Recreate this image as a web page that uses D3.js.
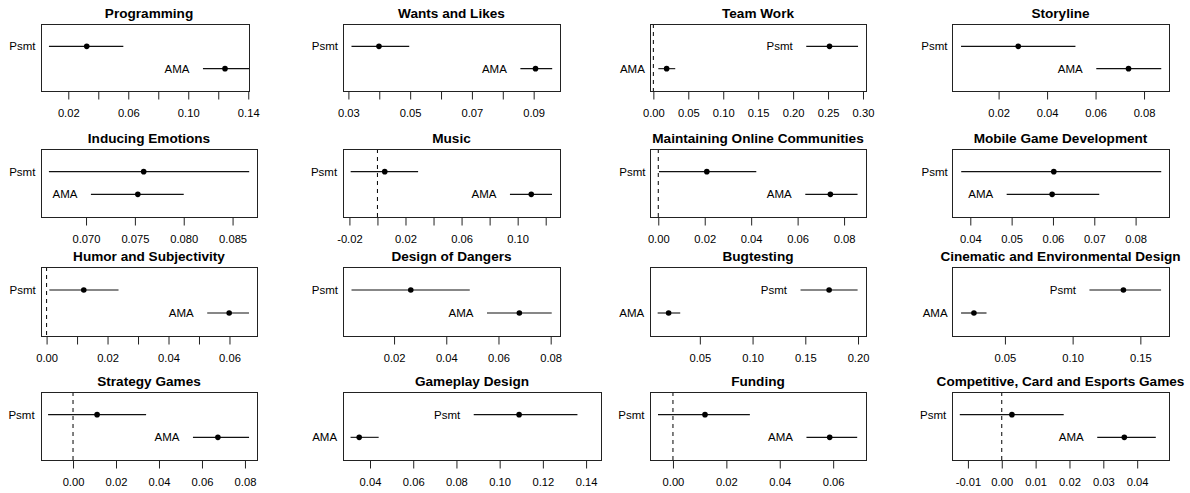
<!DOCTYPE html>
<html>
<head>
<meta charset="utf-8">
<script src="https://cdn.jsdelivr.net/npm/d3@7"></script>
<style>
  html, body { margin: 0; padding: 0; background: #fff; }
  svg { display: block; }
  text { font-family: "Liberation Sans", Arial, Helvetica, sans-serif; fill: #000; }
</style>
</head>
<body>
<svg id="chart" width="1190" height="493"></svg>
<script>
// ---------------- data ----------------
const categories = [
  "Programming", "Wants and Likes", "Team Work", "Storyline",
  "Inducing Emotions", "Music", "Maintaining Online Communities", "Mobile Game Development",
  "Humor and Subjectivity", "Design of Dangers", "Bugtesting", "Cinematic and Environmental Design",
  "Strategy Games", "Gameplay Design", "Funding", "Competitive, Card and Esports Games"
];
const seriesNames = ["Psmt", "AMA"];

const psmtEst = [0.0323, 0.0399, 0.2521, 0.0281, 0.0759, 0.0052, 0.0209, 0.0602, 0.0122, 0.0264, 0.1726, 0.1375, 0.0112, 0.1090, 0.0120, 0.0030];
const psmtLo  = [0.0071, 0.0310, 0.2188, 0.0045, 0.0662, -0.0191, 0.0003, 0.0378, 0.0009, 0.0037, 0.1455, 0.1124, -0.0116, 0.0880, -0.0056, -0.0124];
const psmtHi  = [0.0567, 0.0497, 0.2929, 0.0517, 0.0867, 0.0290, 0.0422, 0.0862, 0.0236, 0.0490, 0.1996, 0.1653, 0.0340, 0.1360, 0.0288, 0.0183];

const amaEst  = [0.1245, 0.0906, 0.0190, 0.0736, 0.0753, 0.1097, 0.0741, 0.0598, 0.0599, 0.0680, 0.0204, 0.0271, 0.0674, 0.0350, 0.0587, 0.0362];
const amaLo   = [0.1098, 0.0857, 0.0071, 0.0603, 0.0705, 0.0945, 0.0633, 0.0488, 0.0527, 0.0556, 0.0100, 0.0176, 0.0558, 0.0310, 0.0500, 0.0282];
const amaHi   = [0.1405, 0.0960, 0.0313, 0.0871, 0.0800, 0.1245, 0.0858, 0.0712, 0.0664, 0.0804, 0.0314, 0.0364, 0.0819, 0.0440, 0.0690, 0.0455];

// axis limits of each panel
const axisMin = [0.0018, 0.02825, -0.0048, 0.00077, 0.06539, -0.02457, -0.00356, 0.03557, -0.00183, 0.00044, 0.00274, 0.01091, -0.0149, 0.0275, -0.0086, -0.0147];
const axisMax = [0.1405, 0.09853, 0.3043, 0.0903, 0.0875, 0.1302, 0.08944, 0.08808, 0.06903, 0.08357, 0.20756, 0.17116, 0.0856, 0.1469, 0.0723, 0.0494];

const tickValues = [
  [0.02, 0.04, 0.06, 0.08, 0.10, 0.12, 0.14],
  [0.03, 0.04, 0.05, 0.06, 0.07, 0.08, 0.09],
  [0.00, 0.05, 0.10, 0.15, 0.20, 0.25, 0.30],
  [0.02, 0.04, 0.06, 0.08],
  [0.070, 0.075, 0.080, 0.085],
  [-0.02, 0.00, 0.02, 0.04, 0.06, 0.08, 0.10, 0.12],
  [0.00, 0.02, 0.04, 0.06, 0.08],
  [0.04, 0.05, 0.06, 0.07, 0.08],
  [0.00, 0.01, 0.02, 0.03, 0.04, 0.05, 0.06],
  [0.02, 0.04, 0.06, 0.08],
  [0.05, 0.10, 0.15, 0.20],
  [0.05, 0.10, 0.15],
  [0.00, 0.02, 0.04, 0.06, 0.08],
  [0.04, 0.06, 0.08, 0.10, 0.12, 0.14],
  [0.00, 0.02, 0.04, 0.06],
  [-0.01, 0.00, 0.01, 0.02, 0.03, 0.04]
];
const tickLabels = [
  ["0.02", "", "0.06", "", "0.10", "", "0.14"],
  ["0.03", "", "0.05", "", "0.07", "", "0.09"],
  ["0.00", "0.05", "0.10", "0.15", "0.20", "0.25", "0.30"],
  ["0.02", "0.04", "0.06", "0.08"],
  ["0.070", "0.075", "0.080", "0.085"],
  ["-0.02", "", "0.02", "", "0.06", "", "0.10", ""],
  ["0.00", "0.02", "0.04", "0.06", "0.08"],
  ["0.04", "0.05", "0.06", "0.07", "0.08"],
  ["0.00", "", "0.02", "", "0.04", "", "0.06"],
  ["0.02", "0.04", "0.06", "0.08"],
  ["0.05", "0.10", "0.15", "0.20"],
  ["0.05", "0.10", "0.15"],
  ["0.00", "0.02", "0.04", "0.06", "0.08"],
  ["0.04", "0.06", "0.08", "0.10", "0.12", "0.14"],
  ["0.00", "0.02", "0.04", "0.06"],
  ["-0.01", "0.00", "0.01", "0.02", "0.03", "0.04"]
];

// ---------------- layout ----------------
const rowBands = [[24, 91], [149, 217], [267, 336], [392, 460]];
const colBands = [[41, 257], [343, 560], [650, 866], [952, 1169]];
const boxOverride = { 0: [41, 249], 13: [343, 601] };

const svg = d3.select("#chart");

categories.forEach((title, i) => {
  const r = Math.floor(i / 4), c = i % 4;
  const [top, bottom] = rowBands[r];
  const [cx0, cx1] = colBands[c];
  const [bx0, bx1] = boxOverride[i] || colBands[c];

  const x = d3.scaleLinear().domain([axisMin[i], axisMax[i]]).range([bx0, bx1]);
  const y = d3.scaleLinear().domain([0, 3]).range([top, bottom]);

  const g = svg.append("g");

  // title
  g.append("text")
    .attr("x", (i === 13) ? (bx0 + bx1) / 2 : (cx0 + cx1) / 2)
    .attr("y", top - 6.5)
    .attr("text-anchor", "middle")
    .style("font-size", "13.6px")
    .style("font-weight", "bold")
    .text(title);

  // zero reference line
  if (axisMin[i] < 0 && axisMax[i] > 0) {
    g.append("line")
      .attr("x1", x(0)).attr("x2", x(0))
      .attr("y1", top).attr("y2", bottom)
      .attr("stroke", "#000").attr("stroke-width", 1)
      .attr("stroke-dasharray", "4,4");
  }

  // box
  g.append("rect")
    .attr("x", bx0 + 0.5).attr("y", top + 0.5)
    .attr("width", bx1 - bx0).attr("height", bottom - top)
    .attr("fill", "none").attr("stroke", "#222").attr("stroke-width", 1);

  // axis
  const axis = d3.axisBottom(x)
    .tickValues(tickValues[i])
    .tickFormat((d, j) => tickLabels[i][j])
    .tickSize(8)
    .tickPadding(10);
  const ag = g.append("g").attr("transform", `translate(0,${bottom + 0.5})`).call(axis);
  ag.select(".domain").remove();
  ag.selectAll(".tick line").attr("stroke", "#222");
  ag.selectAll(".tick text")
    .attr("fill", "#000")
    .style("font-family", "'Liberation Sans', Arial, Helvetica, sans-serif")
    .style("font-size", "11.2px");

  // intervals
  const rowsData = [
    { name: seriesNames[0], pos: 1, est: psmtEst[i], lo: psmtLo[i], hi: psmtHi[i] },
    { name: seriesNames[1], pos: 2, est: amaEst[i], lo: amaLo[i], hi: amaHi[i] }
  ];
  rowsData.forEach(d => {
    const yy = y(d.pos);
    g.append("line")
      .attr("x1", x(d.lo)).attr("x2", x(d.hi))
      .attr("y1", yy).attr("y2", yy)
      .attr("stroke", "#111").attr("stroke-width", 1.1);
    g.append("circle")
      .attr("cx", x(d.est)).attr("cy", yy).attr("r", 2.8)
      .attr("fill", "#000");
    g.append("text")
      .attr("x", x(d.lo) - 13.5)
      .attr("y", yy)
      .attr("dy", "0.36em")
      .attr("text-anchor", "end")
      .style("font-size", "11.5px")
      .text(d.name);
  });
});
</script>
</body>
</html>
